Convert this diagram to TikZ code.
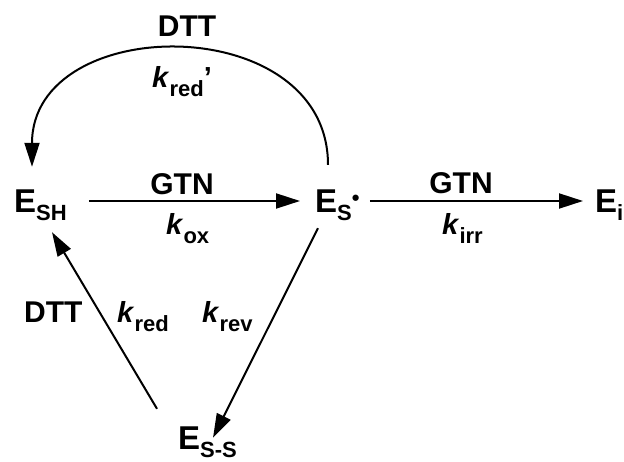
\documentclass[tikz,border=0pt]{standalone}
\usepackage{fontspec}
\setmainfont{Liberation Sans}
\usetikzlibrary{arrows.meta}
\newcommand{\esub}[1]{\raisebox{-8pt}{\fontsize{22}{22}\selectfont #1}}
\newcommand{\rsub}[1]{\raisebox{-9pt}{\fontsize{22}{22}\selectfont #1}}
\newcommand{\rad}{\raisebox{7pt}{\fontsize{22}{22}\selectfont •}}

\begin{document}
\begin{tikzpicture}[
  x=1pt, y=-1pt,
  enzyme/.style={font=\fontsize{33}{33}\selectfont\bfseries, inner sep=0pt, text height=26pt, text depth=2pt, anchor=base west},
  agent/.style={font=\fontsize{30}{30}\selectfont\bfseries, inner sep=0pt, anchor=base},
  rate/.style={font=\fontsize{29}{29}\selectfont\bfseries, inner sep=0pt, anchor=base west},
  arrow/.style={-{Triangle[length=24pt,width=15pt]}, line width=2pt, color=black}
]
  \useasboundingbox (0,0) rectangle (624,462);

  \node[enzyme] (esh) at (14,213) {E\esub{SH}};
  \node[enzyme] (es) at (315,213) {E\esub{S}\rad};
  \node[enzyme] (ei) at (595,213) {E\esub{i}};
  \node[enzyme] (ess) at (178,449) {E\esub{S-S}};

  \node[agent] (dtttop) at (187,37) {DTT};
  \node[rate] (kredp) at (152,88) {\textit{k}\rsub{red}’};
  \node[agent] (gtnox) at (182,195) {GTN};
  \node[rate] (kox) at (166,235) {\textit{k}\rsub{ox}};
  \node[agent] (gtnirr) at (461,194) {GTN};
  \node[rate] (kirr) at (442,235) {\textit{k}\rsub{irr}};
  \node[agent, anchor=base west] (dttleft) at (24,323) {DTT};
  \node[rate] (kred) at (117,323) {\textit{k}\rsub{red}};
  \node[rate] (krev) at (202,323) {\textit{k}\rsub{rev}};

  \draw[arrow, shorten <=22pt, shorten >=15pt] (esh) -- (es);
  \draw[arrow, shorten <=10pt, shorten >=12pt] (es) -- (ei);
  \draw[arrow] ([shift={(13pt,22pt)}]es.north west)
    .. controls +(0,-155) and +(0,-155) .. ([shift={(18pt,20pt)}]esh.north west);
  \draw[arrow] ([shift={(3pt,-13pt)}]es.south west) -- ([shift={(35pt,-15pt)}]ess.north west);
  \draw[arrow] ([shift={(-21pt,14pt)}]ess.north west) -- ([shift={(38pt,-17pt)}]esh.south west);
\end{tikzpicture}
\end{document}
